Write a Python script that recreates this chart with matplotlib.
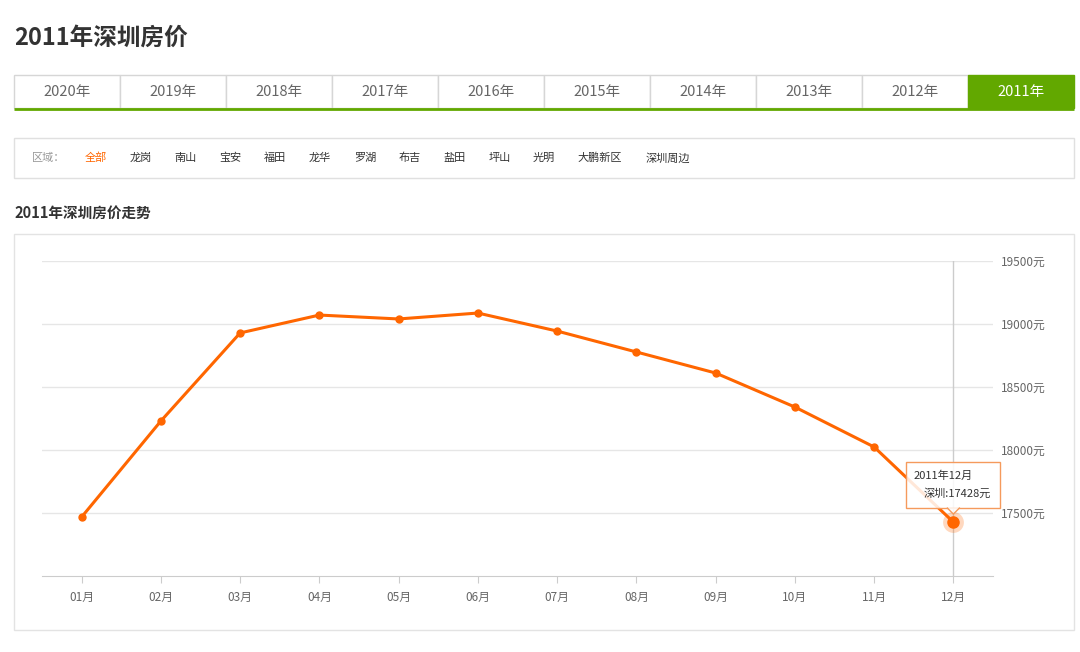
import numpy as np
import matplotlib
matplotlib.use("Agg")
import matplotlib.pyplot as plt
from matplotlib.patches import Rectangle, Polygon

plt.rcParams['font.family'] = ['Noto Sans CJK SC', 'DejaVu Sans']

# data
months = ["01月", "02月", "03月", "04月", "05月", "06月",
          "07月", "08月", "09月", "10月", "11月", "12月"]
prices = [17468, 18230, 18929, 19071, 19040, 19087,
          18944, 18778, 18611, 18341, 18024, 17428]
yticks = [17500, 18000, 18500, 19000, 19500]
years = ["2020年", "2019年", "2018年", "2017年", "2016年",
         "2015年", "2014年", "2013年", "2012年", "2011年"]
districts = ["全部", "龙岗", "南山", "宝安", "福田", "龙华", "罗湖",
             "布吉", "盐田", "坪山", "光明", "大鹏新区", "深圳周边"]

W, H = 1080, 652
ORANGE = "#ff6600"
GREEN = "#62a800"

fig = plt.figure(figsize=(W / 100, H / 100), dpi=100)

# background layer in pixel coords (y down)
bg = fig.add_axes([0, 0, 1, 1], zorder=0)
bg.set_xlim(0, W)
bg.set_ylim(H, 0)
bg.axis("off")

bg.text(14, 38, "2011年深圳房价", fontsize=17, fontweight="bold",
        color="#333333", va="center", ha="left")

# year tabs
tab_w = (1074 - 14) / len(years)
for i, yr in enumerate(years):
    x0 = 14 + i * tab_w
    sel = (i == len(years) - 1)
    bg.add_patch(Rectangle((x0, 75), tab_w, 33, facecolor=GREEN if sel else "white",
                           edgecolor=GREEN if sel else "#d6d6d6", lw=1))
    bg.text(x0 + tab_w / 2, 92, yr, fontsize=10.5, ha="center", va="center",
            color="white" if sel else "#666666")
bg.plot([14, 1074], [109, 109], color=GREEN, lw=2, solid_capstyle="butt")

# district filter box
bg.add_patch(Rectangle((14, 138), 1060, 40, facecolor="white", edgecolor="#e0e0e0", lw=1))
bg.text(32, 158, "区域：", fontsize=8, color="#999999", va="center", ha="left")
x = 85
for j, d in enumerate(districts):
    bg.text(x, 158, d, fontsize=8, va="center", ha="left",
            color=ORANGE if j == 0 else "#333333")
    x += len(d) * 11.4 + 22

bg.text(14, 213, "2011年深圳房价走势", fontsize=10.5, fontweight="bold",
        color="#333333", va="center", ha="left")
bg.add_patch(Rectangle((14, 234), 1060, 396, facecolor="white", edgecolor="#e3e3e3", lw=1))

# chart
left, right, top, bottom = 42, 993, 261, 576
ax = fig.add_axes([left / W, (H - bottom) / H, (right - left) / W, (bottom - top) / H], zorder=1)
ax.patch.set_alpha(0)
xs = np.arange(len(months))
ax.set_xlim(-0.5, len(months) - 0.5)
ax.set_ylim(17000, 19500)
ax.set_yticks(yticks)
ax.set_yticklabels([f"{v}元" for v in yticks])
ax.yaxis.tick_right()
ax.tick_params(axis="y", length=0, pad=6, labelsize=8.5, labelcolor="#666666")
ax.set_xticks(xs)
ax.set_xticklabels(months)
ax.tick_params(axis="x", length=5, color="#cccccc", pad=6, labelsize=8.5, labelcolor="#666666")
ax.grid(axis="y", color="#e6e6e6", lw=1)
ax.set_axisbelow(True)
for s in ["left", "right", "top"]:
    ax.spines[s].set_visible(False)
ax.spines["bottom"].set_color("#cccccc")

ax.axvline(xs[-1], color="#cccccc", lw=1, zorder=1)
ax.plot(xs, prices, color=ORANGE, lw=2.2, marker="o", markersize=5, zorder=3)
ax.plot(xs[-1], prices[-1], "o", color=ORANGE, markersize=15, alpha=0.25, zorder=3, mec="none")
ax.plot(xs[-1], prices[-1], "o", color=ORANGE, markersize=8, zorder=4)

# tooltip on top layer
top_ax = fig.add_axes([0, 0, 1, 1], zorder=2)
top_ax.set_xlim(0, W)
top_ax.set_ylim(H, 0)
top_ax.axis("off")
px, py = ax.transData.transform((xs[-1], prices[-1]))
py = H - py
bw, bh = 94, 46
bx, by = px - bw / 2, py - 14 - bh
top_ax.add_patch(Rectangle((bx, by), bw, bh, facecolor=(1, 1, 1, 0.85), edgecolor="#f59a5c",
                           lw=1))
top_ax.add_patch(Polygon([[px - 6, by + bh - 0.5], [px + 6, by + bh - 0.5], [px, by + bh + 6]],
                         closed=True, facecolor=(1, 1, 1, 0.85), edgecolor="none"))
top_ax.plot([px - 6, px, px + 6], [by + bh, by + bh + 6, by + bh], color="#f59a5c", lw=1)
top_ax.text(bx + 7, by + 14, "2011年12月", fontsize=8, color="#333333", va="center", ha="left")
top_ax.text(bx + bw - 9, by + 31, f"深圳:{prices[-1]}元", fontsize=8, color="#333333",
            va="center", ha="right")

fig.savefig("out.png", dpi=100)
